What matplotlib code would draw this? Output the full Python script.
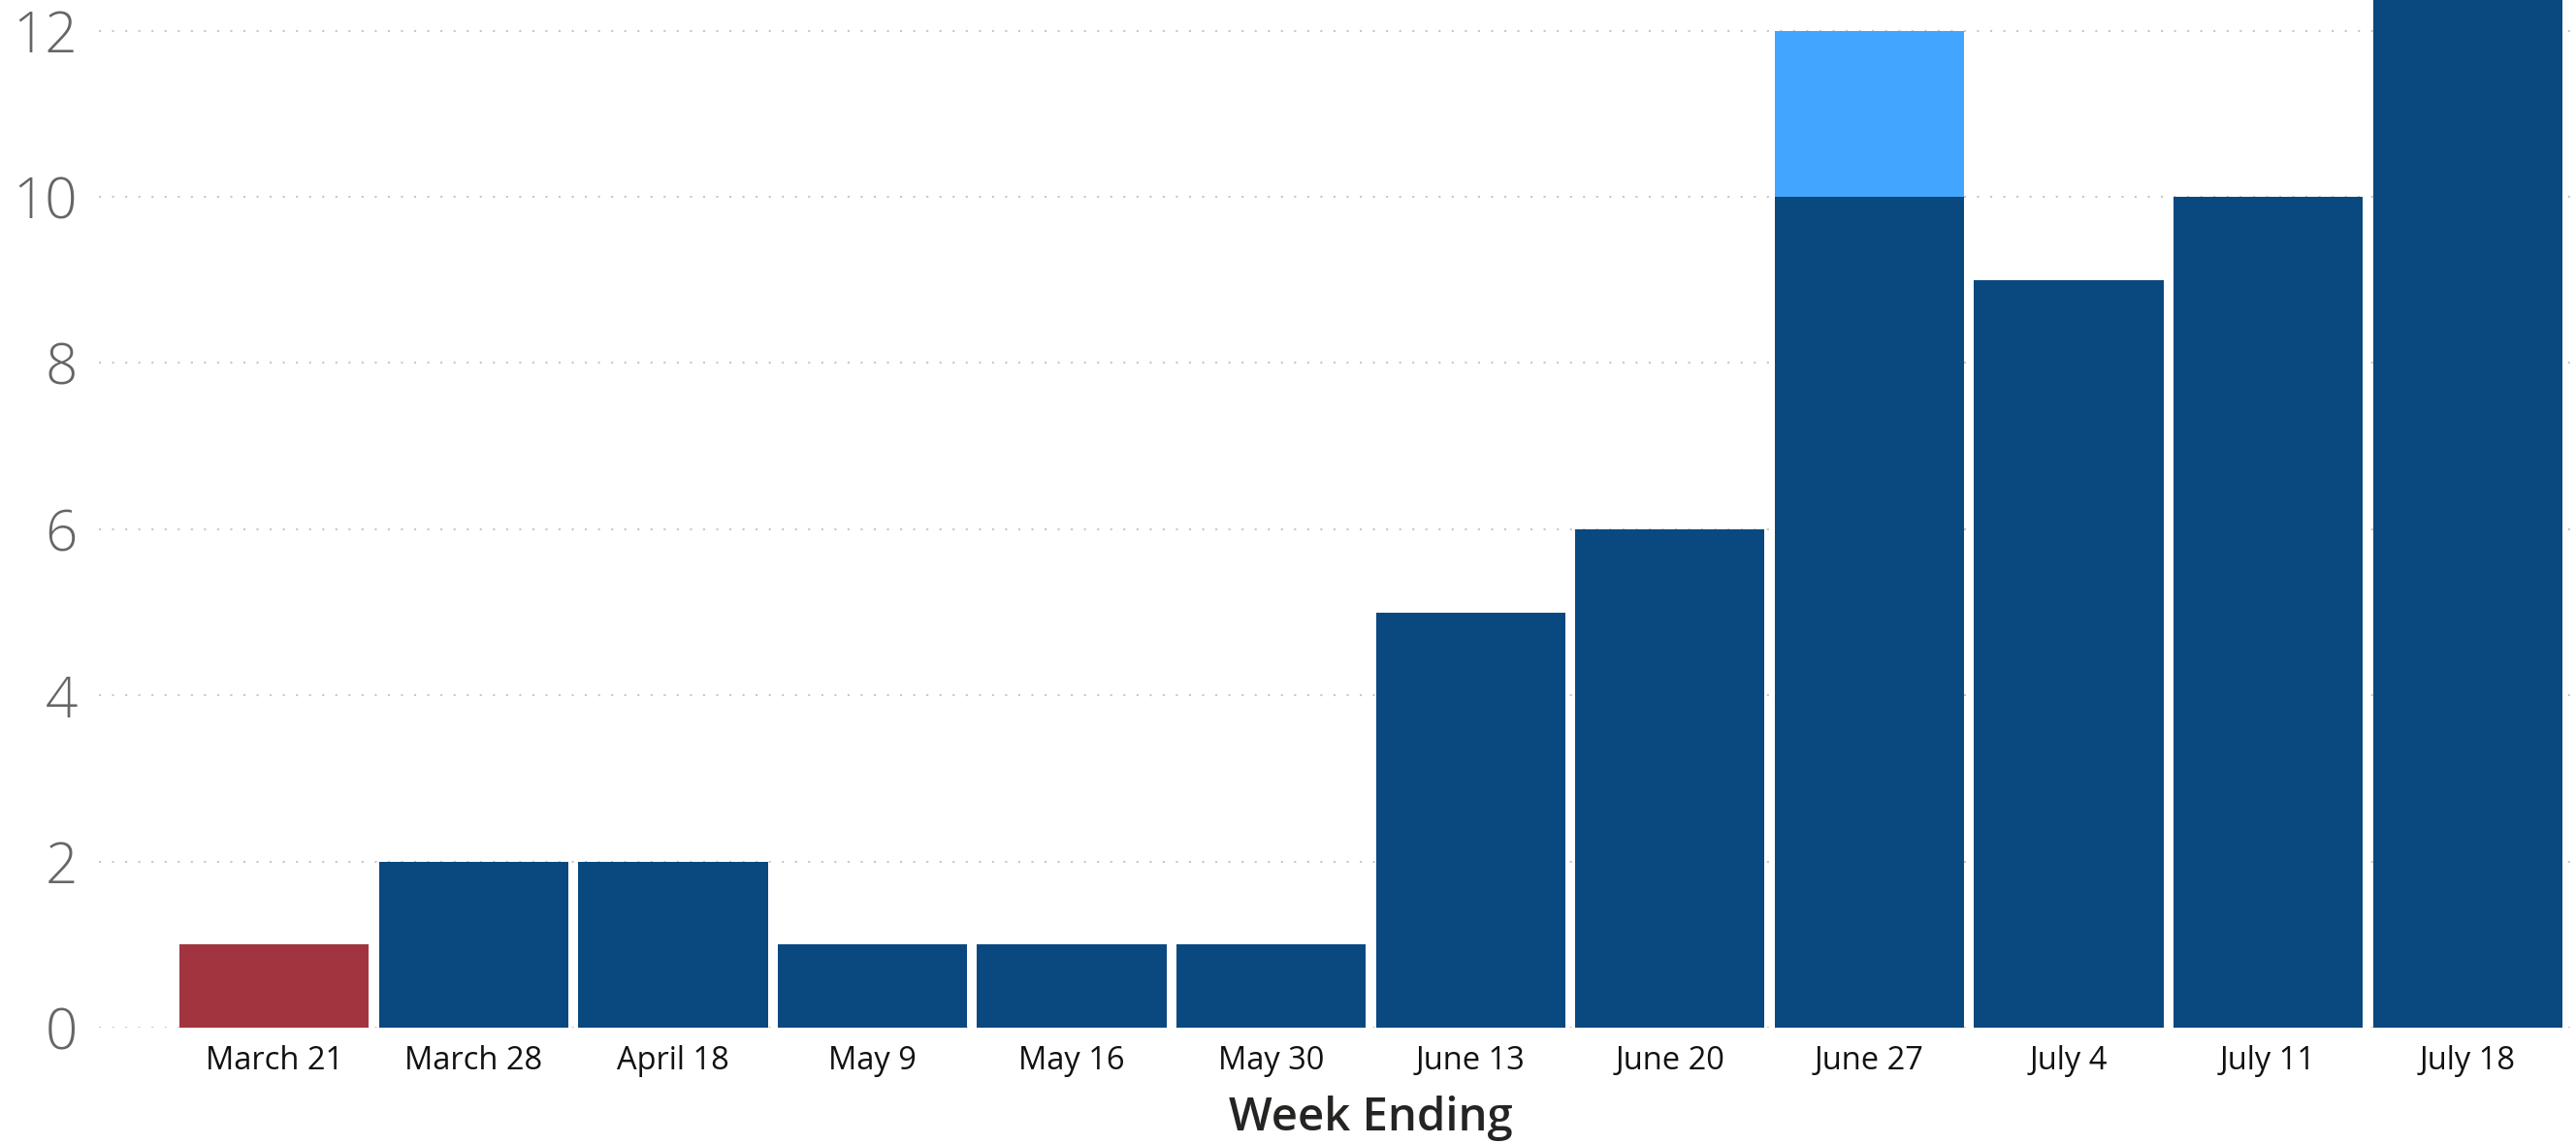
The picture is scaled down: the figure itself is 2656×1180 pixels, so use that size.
import matplotlib.pyplot as plt

weeks = ['March 21', 'March 28', 'April 18', 'May 9', 'May 16', 'May 30',
         'June 13', 'June 20', 'June 27', 'July 4', 'July 11', 'July 18']
base_counts = [1, 2, 2, 1, 1, 1, 5, 6, 10, 9, 10, 13]
extra_counts = [0, 0, 0, 0, 0, 0, 0, 0, 2, 0, 0, 0]
y_ticks = [0, 2, 4, 6, 8, 10, 12]

dark_blue = '#0A4880'
light_blue = '#42A5FF'
red = '#A1343F'

plt.rcParams['font.family'] = ['Open Sans', 'DejaVu Sans']

fig = plt.figure(figsize=(26.56, 11.8), dpi=100)
ax = fig.add_axes([102 / 2656, 1 - 1060 / 1180, 1 - 102 / 2656, (1060) / 1180])

x = list(range(len(weeks)))
colors = [red] + [dark_blue] * (len(weeks) - 1)
ax.bar(x, base_counts, width=0.95, color=colors, zorder=2)
ax.bar(x, extra_counts, width=0.95, bottom=base_counts, color=light_blue, zorder=2)

ax.set_xlim(-0.879, 11.544)
ax.set_ylim(0, 12.37)
ax.set_yticks(y_ticks)
ax.set_yticklabels([str(t) for t in y_ticks], fontsize=42, color='#666666', fontweight='light')
ax.set_xticks(x)
ax.set_xticklabels(weeks, fontsize=23.5, color='#111111')
ax.tick_params(axis='y', length=0, pad=16)
ax.tick_params(axis='x', length=0, pad=13)
ax.grid(axis='y', color='#C8C8C8', linewidth=1.5, linestyle=(0, (1, 5.5)), zorder=0)
for s in ax.spines.values():
    s.set_visible(False)

ax.set_xlabel('Week Ending', fontsize=34, color='#252423', fontweight='semibold')
ax.xaxis.set_label_coords((5.5 + 0.879) / 12.423, -0.066)

fig.savefig('out.png', dpi=100)
